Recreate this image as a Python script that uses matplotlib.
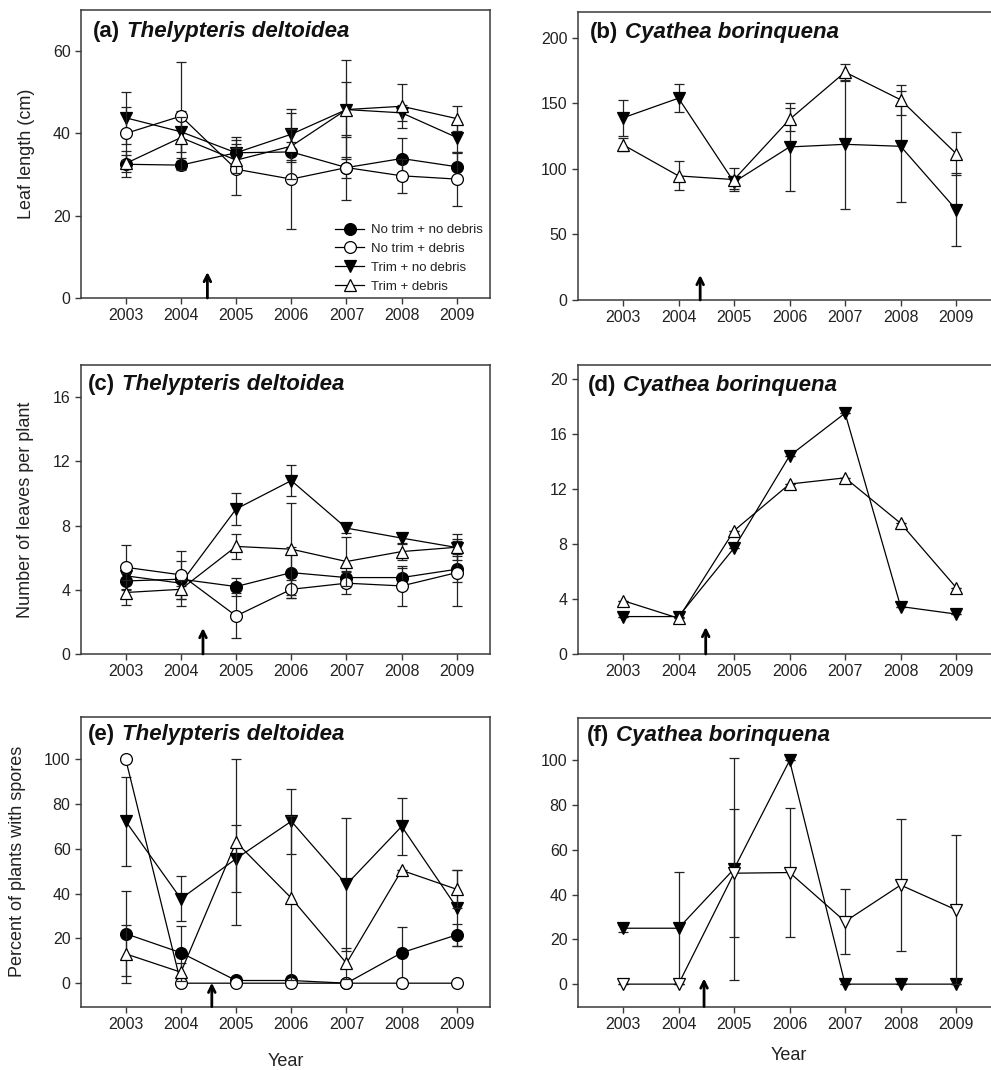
import matplotlib
matplotlib.use("Agg")
import matplotlib.pyplot as plt
from matplotlib.lines import Line2D

plt.rcParams['font.family'] = ['Liberation Sans', 'DejaVu Sans']

years = [2003, 2004, 2005, 2006, 2007, 2008, 2009]
year_labels = ['2003', '2004', '2005', '2006', '2007', '2008', '2009']
treatments = ['No trim + no debris', 'No trim + debris', 'Trim + no debris', 'Trim + debris']

# (a) Thelypteris deltoidea leaf length (cm)
a_nn = [32.5, 32.3, 35.3, 35.5, 31.7, 33.9, 31.9]
a_nn_se = [3.2, 1.0, 3.8, 2.5, 2.5, 5.1, 3.5]
a_nd = [40.0, 44.2, 31.3, 28.9, 31.7, 29.7, 28.9]
a_nd_se = [6.4, 13.1, 6.2, 12.1, 8.0, 4.1, 6.5]
a_tn = [43.8, 40.4, 35.3, 39.8, 45.8, 45.0, 39.0]
a_tn_se = [6.3, 5.0, 3.0, 6.2, 6.7, 2.0, 3.7]
a_td = [32.7, 39.0, 33.5, 36.9, 45.8, 46.6, 43.6]
a_td_se = [2.0, 5.0, 3.0, 8.0, 12.0, 5.3, 3.0]

# (b) Cyathea borinquena leaf length (cm)
b_tn = [139, 154, 90, 116.8, 118.8, 117.3, 69]
b_tn_se = [14, 10.5, 5, 33.8, 49, 42.4, 28]
b_td = [118.5, 94.7, 91.9, 137.8, 173.9, 152.8, 111.7]
b_td_se = [5, 11, 9, 9, 6.5, 11.5, 16.2]

# (c) Thelypteris deltoidea number of leaves per plant
c_nn = [4.55, 4.66, 4.2, 5.07, 4.76, 4.76, 5.28]
c_nn_se = [0.5, 0.4, 0.56, 1.6, 0.4, 0.6, 0.8]
c_nd = [5.4, 4.93, 2.37, 4.03, 4.41, 4.24, 5.07]
c_nd_se = [1.4, 1.5, 1.4, 0.55, 0.7, 1.25, 2.07]
c_tn = [4.87, 4.41, 9.03, 10.8, 7.84, 7.22, 6.63]
c_tn_se = [0.5, 1.4, 0.97, 0.95, 0.3, 0.3, 0.4]
c_td = [3.83, 4.03, 6.7, 6.53, 5.76, 6.38, 6.65]
c_td_se = [0.77, 0.6, 0.8, 2.85, 1.5, 0.5, 0.8]

# (d) Cyathea borinquena number of leaves per plant
d_tn = [2.72, 2.72, 7.7, 14.4, 17.5, 3.45, 2.9]
d_td = [3.88, 2.6, 8.96, 12.35, 12.8, 9.5, 4.83]

# (e) Thelypteris deltoidea percent of plants with spores
e_nn = [22.1, 13.6, 1.2, 1.2, 0, 13.6, 21.6]
e_nn_se = [19, 12, 0, 0, 0, 11.7, 4.8]
e_nd = [100, 0, 0, 0, 0, 0, 0]
e_nd_se = [0, 0, 0, 0, 0, 0, 0]
e_tn = [72.3, 37.7, 55.6, 72.3, 44.1, 70, 33.7]
e_tn_se = [19.8, 10, 15, 14.5, 29.8, 12.7, 17]
e_td = [13.1, 4.9, 63, 38, 8.9, 50.4, 41.9]
e_td_se = [13.1, 4, 37, 36.5, 7, 0, 8.5]

# (f) Cyathea borinquena percent of plants with spores
f_tn = [25, 25, 51.5, 100, 0, 0, 0]
f_tn_se = [1.5, 25, 49.7, 0, 0, 0, 0]
f_td = [0, 0, 49.6, 49.9, 28, 44.3, 33.2]
f_td_se = [0, 0, 28.5, 28.9, 14.5, 29.5, 33.3]

# treatment arrow (x in years)
arrow_x = [2004.48, 2004.39, 2004.40, 2004.49, 2004.56, 2004.46]

W, H = 991, 1070
fig = plt.figure(figsize=(W / 100, H / 100), dpi=100)

SPINE = '#3a3a3a'
TXT = '#222222'


def make_ax(left, top, bottom, right):
    return fig.add_axes([left / W, 1 - bottom / H, (right - left) / W, (bottom - top) / H])


ax_a = make_ax(81, 10, 298, 490)
ax_b = make_ax(578, 11.7, 300, 1000)
ax_c = make_ax(81, 365, 654, 490)
ax_d = make_ax(578, 365, 654, 1000)
ax_e = make_ax(81, 716.7, 1006.7, 490)
ax_f = make_ax(578, 718, 1006.5, 1000)

styles = {
    'nn': dict(marker='o', mfc='black', mec='black', ms=8.5),
    'nd': dict(marker='o', mfc='white', mec='black', ms=8.5),
    'tn': dict(marker='v', mfc='black', mec='black', ms=9.3),
    'td': dict(marker='^', mfc='white', mec='black', ms=9.3),
    'tdv': dict(marker='v', mfc='white', mec='black', ms=9.3),
}


def series(ax, vals, err, key, z=3):
    st = styles[key]
    ax.errorbar(years, vals, yerr=err, color='black', lw=0.9, elinewidth=0.9,
                ecolor='#222222', capsize=3.8, capthick=0.9, mew=0.9,
                zorder=z, **st)


def style_ax(ax, ylim, yticks, right_panel):
    ax.set_xlim(2002.19, 2009.79 if right_panel else 2009.6)
    ax.set_ylim(*ylim)
    ax.set_xticks(years)
    ax.set_xticklabels(year_labels)
    ax.set_yticks(yticks)
    for s in ax.spines.values():
        s.set_color(SPINE)
        s.set_linewidth(1.1)
    ax.tick_params(direction='out', length=4.5, width=1.0, color=SPINE,
                   labelsize=11.5, labelcolor=TXT, pad=3)


def title(ax, letter, species, x, y):
    t = ax.text(x, y, letter, transform=ax.transAxes, fontsize=16,
                fontweight='bold', color='#111111', va='center', ha='left')
    ax.annotate(species, xy=(1, 0), xycoords=t, xytext=(5, 0),
                textcoords='offset points', fontsize=16, fontweight='bold',
                fontstyle='italic', color='#111111', va='bottom', ha='left')


def arrow(ax, x, frac_len):
    ax.annotate('', xy=(x, frac_len), xycoords=('data', 'axes fraction'),
                xytext=(x, 0), textcoords=('data', 'axes fraction'),
                arrowprops=dict(arrowstyle='->', lw=2.0, color='black',
                                mutation_scale=12, shrinkA=0, shrinkB=0))


# (a)
series(ax_a, a_nn, a_nn_se, 'nn', 4)
series(ax_a, a_nd, a_nd_se, 'nd', 5)
series(ax_a, a_tn, a_tn_se, 'tn', 3)
series(ax_a, a_td, a_td_se, 'td', 6)
style_ax(ax_a, (0, 70), [0, 20, 40, 60], False)
title(ax_a, '(a)', 'Thelypteris deltoidea', 0.029, 0.927)
ax_a.set_ylabel('Leaf length (cm)', fontsize=13, color=TXT)
ax_a.yaxis.set_label_coords(-0.112, 0.5)
arrow(ax_a, arrow_x[0], 26 / 288)
handles = [Line2D([], [], color='black', lw=0.9, mew=0.9, **styles[k])
           for k in ['nn', 'nd', 'tn', 'td']]
leg = ax_a.legend(handles, treatments, loc='upper left', bbox_to_anchor=(0.621, 0.257),
                  frameon=False, fontsize=9.5, handlelength=2.2, handletextpad=0.5,
                  labelspacing=0.5, borderpad=0, borderaxespad=0)
for txt in leg.get_texts():
    txt.set_color(TXT)

# (b)
series(ax_b, b_tn, b_tn_se, 'tn', z=3)
series(ax_b, b_td, b_td_se, 'td', z=4)
style_ax(ax_b, (0, 220), [0, 50, 100, 150, 200], True)
title(ax_b, '(b)', 'Cyathea borinquena', 0.028, 0.927)
arrow(ax_b, arrow_x[1], 25 / 288)

# (c)
series(ax_c, c_nn, c_nn_se, 'nn', z=4)
series(ax_c, c_nd, c_nd_se, 'nd', z=5)
series(ax_c, c_tn, c_tn_se, 'tn', z=3)
series(ax_c, c_td, c_td_se, 'td', z=6)
style_ax(ax_c, (0, 18), [0, 4, 8, 12, 16], False)
title(ax_c, '(c)', 'Thelypteris deltoidea', 0.017, 0.931)
ax_c.set_ylabel('Number of leaves per plant', fontsize=13, color=TXT)
ax_c.yaxis.set_label_coords(-0.115, 0.5)
arrow(ax_c, arrow_x[2], 26 / 289)

# (d)
series(ax_d, d_tn, [0] * 7, 'tn', z=3)
series(ax_d, d_td, [0] * 7, 'td', z=4)
style_ax(ax_d, (0, 21), [0, 4, 8, 12, 16, 20], True)
title(ax_d, '(d)', 'Cyathea borinquena', 0.024, 0.928)
arrow(ax_d, arrow_x[3], 27 / 289)

# (e)
series(ax_e, e_nn, e_nn_se, 'nn', z=4)
series(ax_e, e_nd, e_nd_se, 'nd', z=5)
series(ax_e, e_tn, e_tn_se, 'tn', z=3)
series(ax_e, e_td, e_td_se, 'td', z=6)
style_ax(ax_e, (-10.5, 119), [0, 20, 40, 60, 80, 100], False)
title(ax_e, '(e)', 'Thelypteris deltoidea', 0.017, 0.937)
ax_e.set_ylabel('Percent of plants with spores', fontsize=13, color=TXT)
ax_e.yaxis.set_label_coords(-0.134, 0.5)
ax_e.set_xlabel('Year', fontsize=13, color=TXT, labelpad=15)
arrow(ax_e, arrow_x[4], 24 / 290)

# (f)
series(ax_f, f_tn, f_tn_se, 'tn', z=3)
series(ax_f, f_td, f_td_se, 'tdv', z=4)
style_ax(ax_f, (-10, 119), [0, 20, 40, 60, 80, 100], True)
title(ax_f, '(f)', 'Cyathea borinquena', 0.021, 0.941)
ax_f.set_xlabel('Year', fontsize=13, color=TXT, labelpad=11)
arrow(ax_f, arrow_x[5], 28 / 288)

fig.savefig('out.png', dpi=100)
